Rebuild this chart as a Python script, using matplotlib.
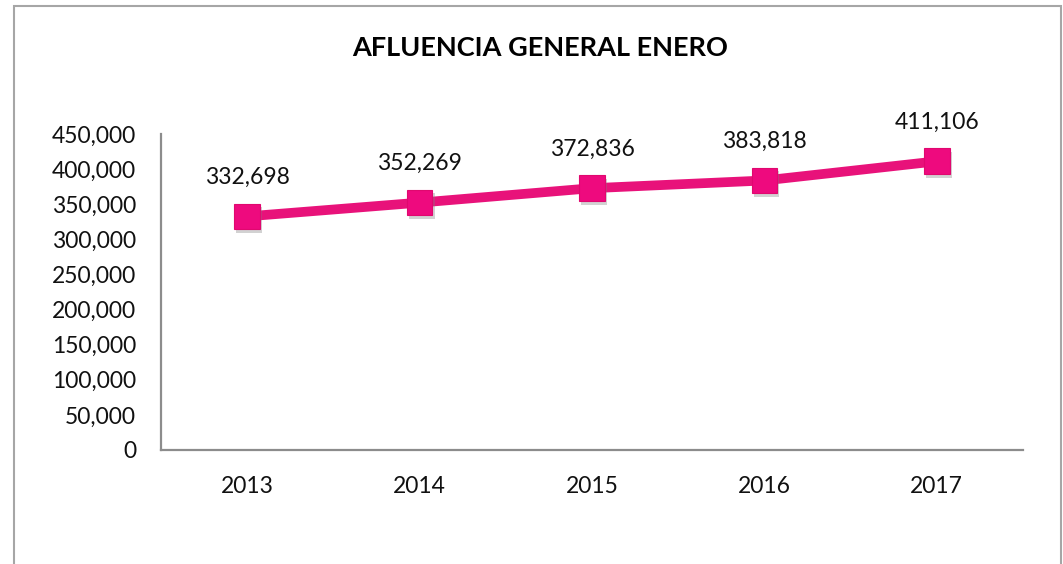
import matplotlib
matplotlib.use("Agg")
import matplotlib.pyplot as plt
from matplotlib.patches import Rectangle
import matplotlib.patheffects as pe

years = ["2013", "2014", "2015", "2016", "2017"]
values = [332698, 352269, 372836, 383818, 411106]
yticks = [0, 50000, 100000, 150000, 200000, 250000, 300000, 350000, 400000, 450000]
title = "AFLUENCIA GENERAL ENERO"

plt.rcParams['font.family'] = ['Lato', 'DejaVu Sans']

fig = plt.figure(figsize=(10.63, 5.64), dpi=100)
W, H = 1063, 564
ax = fig.add_axes([161/W, 1-450/H, (1023-161)/W, (450-134)/H])

x = list(range(len(years)))
ax.plot(x, values, color="#E8127A", lw=7, solid_capstyle="butt", zorder=2)
ax.plot(x, values, ls="none", marker="s", markersize=18.5, color="#EE0A7E",
        markeredgecolor="#E0086F", markeredgewidth=0.8, zorder=3,
        path_effects=[pe.SimplePatchShadow(offset=(1.5, -2.5), shadow_rgbFace="#808080", alpha=0.35), pe.Normal()])

for xi, v in zip(x, values):
    ax.annotate(f"{v:,}", (xi, v), xytext=(0, 28), textcoords="offset points",
                ha="center", va="center", fontsize=16.5, color="#111111")

ax.set_xlim(-0.5, 4.5)
ax.set_ylim(0, 450000)
ax.set_xticks(x)
ax.set_xticklabels(years)
ax.set_yticks(yticks)
ax.set_yticklabels([f"{t:,}" for t in yticks])
ax.tick_params(axis="both", length=0, labelsize=16.5, colors="#111111")
ax.tick_params(axis="x", pad=19)
ax.tick_params(axis="y", pad=18)
for s in ["top", "right"]:
    ax.spines[s].set_visible(False)
for s in ["left", "bottom"]:
    ax.spines[s].set_color("#8c8c8c")
    ax.spines[s].set_linewidth(1.6)

fig.text(540/W, 1-48/H, title, ha="center", va="center", fontsize=19.5, fontweight="bold", color="#000000")

fig.patches.append(Rectangle((14/W, -0.05), (1061-14)/W, 1-6/H + 0.05, transform=fig.transFigure,
                             fill=False, edgecolor="#a6a6a6", lw=1.5))

fig.savefig("out.png", dpi=100)
